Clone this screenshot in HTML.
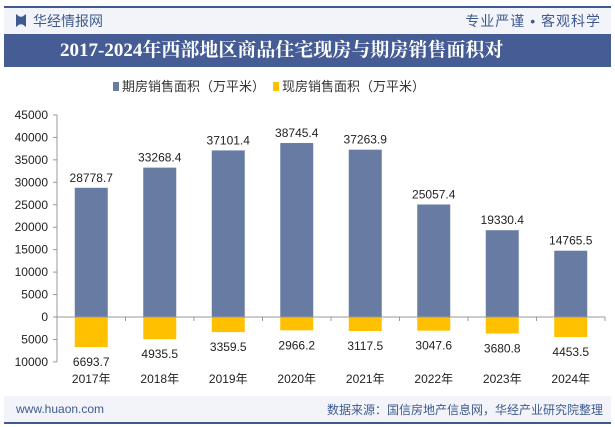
<!DOCTYPE html>
<html><head><meta charset="utf-8"><style>
body{margin:0;width:615px;height:427px;background:#fff;font-family:"Liberation Sans","Noto Sans CJK SC",sans-serif;overflow:hidden;position:relative}
.abs{position:absolute}
</style></head><body>
<div class="abs" style="left:4px;top:6px;width:607px;height:2px;background:#3f5a8f"></div>
<div class="abs" style="left:4px;top:8px;width:607px;height:26px;background:#f2f4f9"></div>
<div class="abs" style="left:16px;top:14px;width:10px;height:13px;background:#3f5a8f;clip-path:polygon(0 0,35% 20%,65% 20%,100% 0,100% 100%,65% 80%,35% 80%,0 100%)"></div>
<div class="abs" style="left:33px;top:11px;font-size:14px;color:#3f5a8f">华经情报网</div>
<div class="abs" style="right:14px;top:11px;font-size:14px;color:#3f5a8f;letter-spacing:1px">专业严谨 • 客观科学</div>
<div class="abs" style="left:4px;top:34px;width:607px;height:33px;background:#455d94"></div>
<div class="abs" style="left:60px;top:34px;height:33px;color:#fff;font-family:'Liberation Serif','Noto Serif CJK SC',serif;font-weight:bold;font-size:19px;line-height:33px;white-space:nowrap">2017-2024年西部地区商品住宅现房与期房销售面积对</div>
<div class="abs" style="left:113px;top:76px;font-size:13px;color:#333"><span style="display:inline-block;width:6px;height:9px;background:#687ca3;margin-right:3px"></span>期房销售面积（万平米）</div>
<div class="abs" style="left:273px;top:76px;font-size:13px;color:#333"><span style="display:inline-block;width:6px;height:9px;background:#ffc000;margin-right:3px"></span>现房销售面积（万平米）</div>
<svg class="abs" style="left:0;top:0" width="615" height="427" id="chart"></svg>
<div class="abs" style="left:4px;top:396px;width:607px;height:26px;background:#f2f4f9"></div>
<div class="abs" style="left:16px;top:402px;font-size:12px;color:#3f5a8f">www.huaon.com</div>
<div class="abs" style="right:12px;top:401px;font-size:12px;color:#3f5a8f">数据来源：国信房地产信息网，华经产业研究院整理</div>
<div class="abs" style="left:4px;top:422px;width:607px;height:2px;background:#3f5a8f"></div>
<script>
const categories=["2017年","2018年","2019年","2020年","2021年","2022年","2023年","2024年"];
const futures=[28778.7,33268.4,37101.4,38745.4,37263.9,25057.4,19330.4,14765.5];
const existing=[6693.7,4935.5,3359.5,2966.2,3117.5,3047.6,3680.8,4453.5];
const yTicks=[45000,40000,35000,30000,25000,20000,15000,10000,5000,0,-5000,-10000];
const svg=document.getElementById('chart');
const NS='http://www.w3.org/2000/svg';
const x0=57,x1=605,yZero=317,pxPer=22.45/5000;
const y=v=>yZero-v*pxPer;
const bw=(x1-x0)/categories.length;
function mk(t,a){const e=document.createElementNS(NS,t);for(const k in a)e.setAttribute(k,a[k]);svg.appendChild(e);return e;}
yTicks.forEach(t=>{const e=mk('text',{x:x0-9,y:y(t)+4,'text-anchor':'end','font-size':12,fill:'#222'});e.textContent=Math.abs(t);


const tk=mk('line',{x1:x0-4,x2:x0,y1:y(t),y2:y(t),stroke:'#999'});

});
const ax=mk('line',{x1:x0,x2:x0,y1:y(45000),y2:y(-10000),stroke:'#999'});


categories.forEach((c,i)=>{const cx=x0+bw*(i+0.5);
const b=mk('rect',{x:cx-16.5,y:y(futures[i]),width:33,height:yZero-y(futures[i]),fill:'#687ca3'});


const r=mk('rect',{x:cx-16.5,y:yZero,width:33,height:existing[i]*pxPer,fill:'#ffc000'});


const l1=mk('text',{x:cx,y:y(futures[i])-6,'text-anchor':'middle','font-size':12,fill:'#222'});l1.textContent=futures[i].toFixed(1);


const l2=mk('text',{x:cx,y:yZero+existing[i]*pxPer+19,'text-anchor':'middle','font-size':12,fill:'#222'});l2.textContent=existing[i].toFixed(1);


const xl=mk('text',{x:cx,y:383,'text-anchor':'middle','font-size':12,fill:'#222'});xl.textContent=c;


const tk=mk('line',{x1:x0+bw*(i+1),x2:x0+bw*(i+1),y1:yZero,y2:yZero+4,stroke:'#999'});

});
const xa=mk('line',{x1:x0,x2:x1,y1:yZero,y2:yZero,stroke:'#999'});


</script>
</body></html>
